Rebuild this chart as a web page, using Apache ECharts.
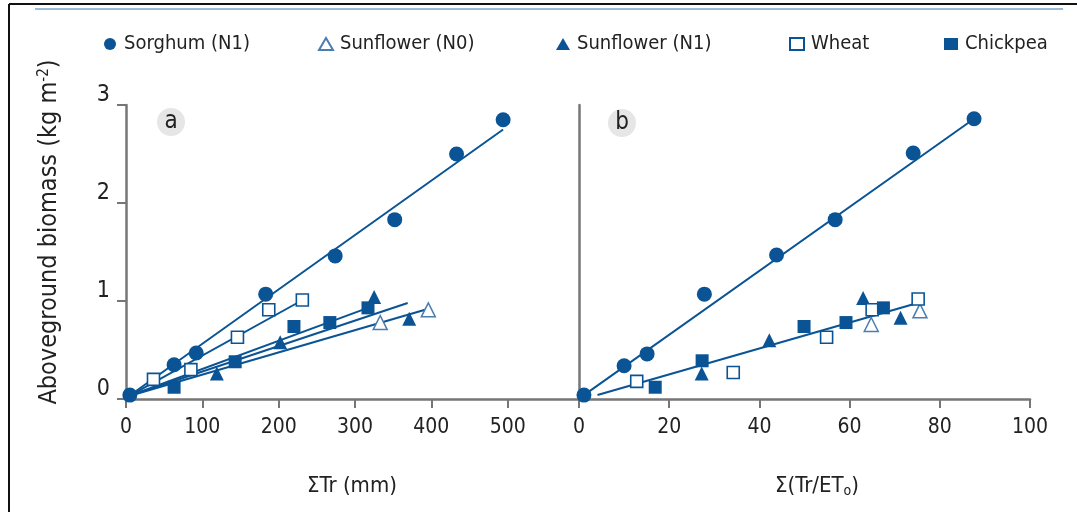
<!DOCTYPE html>
<html>
<head>
<meta charset="utf-8">
<script src="https://cdn.jsdelivr.net/npm/echarts@6/dist/echarts.min.js"></script>
<style>
  html, body { margin: 0; padding: 0; background: #fff; }
  #chart { width: 1077px; height: 512px; }
</style>
</head>
<body>
<div id="chart"></div>
<script>
// panel a : sum of transpiration (mm) vs biomass (kg m-2)
const sorghumA = [[5, 0.04], [63, 0.35], [92, 0.47], [183, 1.07], [274, 1.46], [352, 1.83], [433, 2.50], [494, 2.85]];
const sunflowerN0A = [[333, 0.78], [396, 0.91]];
const sunflowerN1A = [[119, 0.26], [202, 0.58], [325, 1.04], [371, 0.82]];
const wheatA = [[36, 0.20], [85, 0.30], [146, 0.63], [187, 0.91], [231, 1.01]];
const chickpeaA = [[63, 0.12], [143, 0.38], [220, 0.74], [267, 0.78], [317, 0.93]];

// fitted lines, panel a
const sorghumFitA = [[4, 0.03], [494, 2.75]];
const wheatFitA = [[4, 0.03], [229, 1.0]];
const chickpeaFitA = [[4, 0.03], [324, 0.95]];
const sunflowerN1FitA = [[4, 0.03], [369, 0.98]];
const sunflowerN0FitA = [[4, 0.03], [394, 0.915]];

// panel b : sum of Tr/ETo vs biomass
const sorghumB = [[1.1, 0.04], [10, 0.34], [15.1, 0.46], [27.8, 1.07], [43.8, 1.47], [56.8, 1.83], [74.1, 2.51], [87.6, 2.86]];
const sunflowerN0B = [[64.8, 0.76], [75.6, 0.90]];
const sunflowerN1B = [[27.2, 0.26], [42.2, 0.60], [63.0, 1.03], [71.3, 0.83]];
const wheatB = [[12.8, 0.18], [34.2, 0.27], [54.9, 0.63], [65, 0.91], [75.2, 1.02]];
const chickpeaB = [[16.9, 0.12], [27.3, 0.39], [49.9, 0.74], [59.2, 0.78], [67.5, 0.93]];

// fitted lines, panel b
const sorghumFitB = [[1.1, 0.04], [87.6, 2.86]];
const othersFitB = [[4.1, 0.04], [74.7, 0.975]];

const ticksA = [0, 100, 200, 300, 400, 500];
const legendNames = ['Sorghum (N1)', 'Sunflower (N0)', 'Sunflower (N1)', 'Wheat', 'Chickpea'];
const legendLeft = [99, 313, 551, 784, 939];

const blue = '#0a5495';
const axisGray = '#767676';
const textColor = '#222';
const font = '"Liberation Sans Narrow", "DejaVu Sans Condensed", "Liberation Sans", sans-serif';

const markerStyle = {
    'Sorghum (N1)': { symbol: 'circle', symbolSize: 15, itemStyle: { color: blue, opacity: 1 } },
    'Sunflower (N0)': { symbol: 'triangle', symbolSize: 14, itemStyle: { color: '#fff', borderColor: '#4a7db0', borderWidth: 1.5, opacity: 1 } },
    'Sunflower (N1)': { symbol: 'triangle', symbolSize: 14, itemStyle: { color: blue, opacity: 1 } },
    'Wheat': { symbol: 'rect', symbolSize: 12, itemStyle: { color: '#fff', borderColor: blue, borderWidth: 1.6, opacity: 1 } },
    'Chickpea': { symbol: 'rect', symbolSize: 13, itemStyle: { color: blue, opacity: 1 } }
};

function scatter(name, data, idx) {
    const s = markerStyle[name];
    return {
        name: name, type: 'scatter', xAxisIndex: idx, yAxisIndex: idx,
        symbol: s.symbol, symbolSize: s.symbolSize, itemStyle: s.itemStyle,
        data: data, z: 3
    };
}

function fitLine(data, idx) {
    return {
        name: 'fit', type: 'line', xAxisIndex: idx, yAxisIndex: idx,
        showSymbol: false, symbol: 'none', silent: true,
        lineStyle: { color: blue, width: 2 },
        data: data, z: 2
    };
}

const chart = echarts.init(document.getElementById('chart'));

const option = {
    animation: false,
    textStyle: { fontFamily: font },
    legend: legendNames.map((n, i) => ({
        data: [n],
        left: legendLeft[i],
        top: 29,
        itemWidth: 14,
        itemHeight: 12,
        itemGap: 0,
        textStyle: { fontSize: 20, color: textColor, fontFamily: font, padding: [0, 0, 0, 2] },
        selectedMode: false
    })),
    grid: [
        { left: 126, top: 105, width: 453, height: 294 },
        { left: 579, top: 105, width: 451, height: 294 }
    ],
    xAxis: [
        {
            gridIndex: 0, type: 'value', min: 0, max: 593.4,
            axisLine: { lineStyle: { color: axisGray, width: 2.5 } },
            axisTick: { show: true, length: 9, customValues: ticksA, lineStyle: { color: axisGray, width: 2 } },
            axisLabel: { customValues: ticksA, fontSize: 21, color: textColor, margin: 18, fontFamily: font },
            splitLine: { show: false }
        },
        {
            gridIndex: 1, type: 'value', min: 0, max: 100, interval: 20,
            axisLine: { lineStyle: { color: axisGray, width: 2.5 } },
            axisTick: { show: true, length: 9, lineStyle: { color: axisGray, width: 2 } },
            axisLabel: { fontSize: 21, color: textColor, margin: 18, fontFamily: font },
            splitLine: { show: false }
        }
    ],
    yAxis: [
        {
            gridIndex: 0, type: 'value', min: 0, max: 3, interval: 1,
            name: 'Aboveground biomass (kg m{sup|-2})',
            nameLocation: 'middle', nameGap: 64, nameRotate: 90,
            nameTextStyle: {
                fontSize: 25, color: textColor, fontFamily: font, padding: [0, 0, 0, 40],
                rich: { sup: { fontSize: 15, verticalAlign: 'top', padding: [0, 0, 10, 0], color: textColor, fontFamily: font } }
            },
            axisLine: { show: true, lineStyle: { color: axisGray, width: 2.5 } },
            axisTick: { show: true, length: 9, lineStyle: { color: axisGray, width: 2 } },
            axisLabel: { fontSize: 23, color: textColor, margin: 16, fontFamily: font, verticalAlign: 'bottom', lineHeight: 19 },
            splitLine: { show: false }
        },
        {
            gridIndex: 1, type: 'value', min: 0, max: 3, interval: 1,
            axisLine: { show: true, lineStyle: { color: axisGray, width: 2.5 } },
            axisTick: { show: false },
            axisLabel: { show: false },
            splitLine: { show: false }
        }
    ],
    graphic: [
        { type: 'line', shape: { x1: 9, y1: 4, x2: 1077, y2: 4 }, style: { stroke: '#111', lineWidth: 2 } },
        { type: 'line', shape: { x1: 9, y1: 4, x2: 9, y2: 512 }, style: { stroke: '#111', lineWidth: 2 } },
        { type: 'line', shape: { x1: 35, y1: 9, x2: 1063, y2: 9 }, style: { stroke: '#7aa6cc', lineWidth: 1.5 } },
        { type: 'circle', shape: { cx: 171, cy: 122, r: 14 }, style: { fill: '#e6e6e6' } },
        { type: 'text', x: 171, y: 122, style: { text: 'a', fill: textColor, font: '24px ' + font, textAlign: 'center', textVerticalAlign: 'middle' } },
        { type: 'circle', shape: { cx: 622, cy: 123, r: 14 }, style: { fill: '#e6e6e6' } },
        { type: 'text', x: 622, y: 123, style: { text: 'b', fill: textColor, font: '24px ' + font, textAlign: 'center', textVerticalAlign: 'middle' } },
        { type: 'text', x: 352, y: 486, style: { text: 'ΣTr (mm)', fill: textColor, font: '22px ' + font, textAlign: 'center', textVerticalAlign: 'middle' } },
        {
            type: 'text', x: 817, y: 486,
            style: {
                text: 'Σ(Tr/ET{sub|o})', fill: textColor, font: '22px ' + font, textAlign: 'center', textVerticalAlign: 'middle',
                rich: { sub: { fontSize: 14, fontFamily: font, fill: textColor, padding: [10, 0, 0, 0] } }
            }
        }
    ],
    series: [
        scatter('Sorghum (N1)', sorghumA, 0),
        scatter('Sunflower (N0)', sunflowerN0A, 0),
        scatter('Sunflower (N1)', sunflowerN1A, 0),
        scatter('Wheat', wheatA, 0),
        scatter('Chickpea', chickpeaA, 0),
        fitLine(sorghumFitA, 0),
        fitLine(wheatFitA, 0),
        fitLine(chickpeaFitA, 0),
        fitLine(sunflowerN1FitA, 0),
        fitLine(sunflowerN0FitA, 0),
        scatter('Sorghum (N1)', sorghumB, 1),
        scatter('Sunflower (N0)', sunflowerN0B, 1),
        scatter('Sunflower (N1)', sunflowerN1B, 1),
        scatter('Wheat', wheatB, 1),
        scatter('Chickpea', chickpeaB, 1),
        fitLine(sorghumFitB, 1),
        fitLine(othersFitB, 1)
    ]
};

chart.setOption(option);
</script>
</body>
</html>
